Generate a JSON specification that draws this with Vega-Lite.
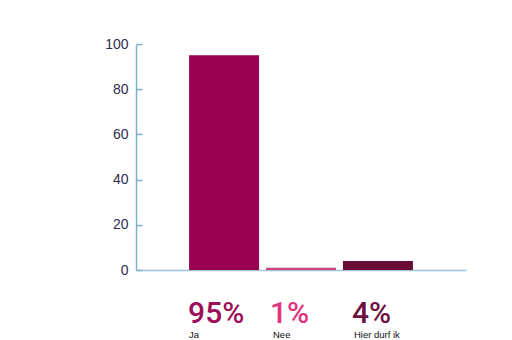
{
  "$schema": "https://vega.github.io/schema/vega-lite/v6.json",
  "width": 330,
  "height": 226,
  "autosize": "none",
  "padding": {"left": 136, "top": 44, "right": 46, "bottom": 70},
  "background": "white",
  "config": {"view": {"stroke": null}, "font": "Liberation Sans"},
  "data": {
    "values": [
      {"antwoord": "Ja", "pct": 95, "label": "95%"},
      {"antwoord": "Nee", "pct": 1, "label": "1%"},
      {"antwoord": "Hier durf ik", "pct": 4, "label": "4%"}
    ]
  },
  "layer": [
    {
      "mark": {"type": "bar"},
      "encoding": {
        "x": {
          "field": "antwoord",
          "type": "nominal",
          "sort": null,
          "scale": {"paddingInner": 0.09, "paddingOuter": 0.69},
          "axis": {
            "orient": "bottom",
            "title": null,
            "labelAngle": 0,
            "labelAlign": "left",
            "labelBaseline": "top",
            "labelExpr": "datum.value == 'Ja' ? '95%' : datum.value == 'Nee' ? '1%' : '4%'",
            "labelFont": "Roboto",
            "labelFontWeight": 500,
            "labelFontSize": 30,
            "labelPadding": 28,
            "labelOffset": {"condition": [{"test": "datum.value == 'Ja'", "value": -36}, {"test": "datum.value == 'Nee'", "value": -31}], "value": -26},
            "labelColor": {"condition": [{"test": "datum.value == 'Ja'", "value": "#9c0f5a"}, {"test": "datum.value == 'Nee'", "value": "#e2327e"}], "value": "#6b1040"},
            "ticks": false,
            "domainColor": "#9fc2d6",
            "domainWidth": 1.5
          }
        },
        "y": {
          "field": "pct",
          "type": "quantitative",
          "scale": {"domain": [0, 100]},
          "axis": {
            "title": null,
            "values": [0, 20, 40, 60, 80, 100],
            "grid": false,
            "tickSize": -6,
            "labelPadding": 14,
            "labelFontSize": 14,
            "labelColor": "#2d2d50",
            "domainColor": "#7fb0c8",
            "tickColor": "#7fb0c8",
            "domainWidth": 1.5,
            "tickWidth": 1.5
          }
        },
        "color": {
          "field": "antwoord",
          "type": "nominal",
          "scale": {"domain": ["Ja", "Nee", "Hier durf ik"], "range": ["#99004f", "#c9457d", "#680c35"]},
          "legend": null
        }
      }
    },
    {
      "mark": {"type": "bar", "opacity": 0},
      "encoding": {
        "x": {
          "field": "antwoord",
          "type": "nominal",
          "sort": null,
          "axis": {
            "orient": "bottom",
            "title": null,
            "labelAngle": 0,
            "labelAlign": "left",
            "labelBaseline": "top",
            "labelFontSize": 9.5,
            "labelColor": "#111111",
            "labelPadding": 59,
            "labelOffset": {"condition": [{"test": "datum.value == 'Ja'", "value": -35}, {"test": "datum.value == 'Nee'", "value": -28}], "value": -24},
            "ticks": false,
            "domain": false
          }
        },
        "y": {"field": "pct", "type": "quantitative"}
      }
    }
  ],
  "resolve": {"axis": {"x": "independent"}}
}
